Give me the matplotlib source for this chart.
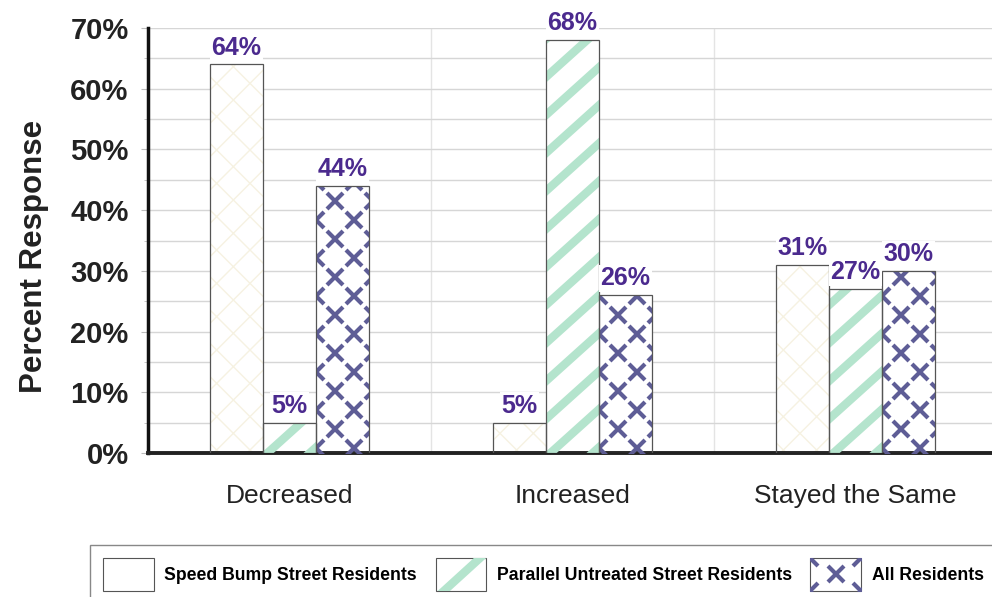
import numpy as np
import matplotlib
matplotlib.use("Agg")
import matplotlib.pyplot as plt
from matplotlib.patches import Rectangle
from matplotlib.lines import Line2D
from matplotlib.legend_handler import HandlerBase
from matplotlib.transforms import IdentityTransform

plt.rcParams["font.family"] = ["Liberation Sans", "DejaVu Sans"]

categories = ["Decreased", "Increased", "Stayed the Same"]
series_names = ["Speed Bump Street Residents",
                "Parallel Untreated Street Residents",
                "All Residents"]
speed_bump = [64, 5, 31]
parallel = [5, 68, 27]
all_residents = [44, 26, 30]
y_ticks = [0, 10, 20, 30, 40, 50, 60, 70]

label_color = "#4b2a8e"
stripe_color = "#b4e4cd"
cross_color = "#5e5d96"
faint_color = "#f6f2e2"
edge_color = "#555555"

fig = plt.figure(figsize=(9.92, 5.97), dpi=100)
ax = fig.add_axes([148 / 992, 1 - 453 / 597, 849 / 992, 425 / 597])

x = np.arange(len(categories))
w = 0.187

ax.set_xlim(-0.5, 2.5)
ax.set_ylim(0, 70)

# background grid every 5%, plus separators between groups
ax.set_yticks(y_ticks)
ax.set_yticks(np.arange(5, 70, 10), minor=True)
ax.yaxis.grid(True, which="both", color="#d6d6d6", lw=1)
ax.set_axisbelow(True)
for sep in (0.5, 1.5):
    ax.axvline(sep, color="#e4e4e4", lw=1, zorder=0)

bars1 = ax.bar(x - w, speed_bump, w, facecolor="white", edgecolor=faint_color,
               hatch="x", lw=0, zorder=2)
bars2 = ax.bar(x, parallel, w, facecolor="white", lw=0, zorder=2)
bars3 = ax.bar(x + w, all_residents, w, facecolor="white", lw=0, zorder=2)
for bars in (bars1, bars2, bars3):
    for b in bars:
        ax.add_patch(Rectangle(b.get_xy(), b.get_width(), b.get_height(),
                               fill=False, edgecolor=edge_color, lw=0.9, zorder=4))

# custom fills: diagonal stripes and staggered crosses, clipped to each bar
fig.canvas.draw()
for b in bars2:
    (x0, y0), (x1, y1) = ax.transData.transform(
        [b.get_xy(), (b.get_x() + b.get_width(), b.get_height())])
    for c in np.arange(-80, y1 - y0 + 40, 38):
        xs = np.array([x0 - 10, x1 + 10])
        ys = 0.9 * (xs - x0) + y0 + c
        ln = Line2D(xs, ys, transform=IdentityTransform(), color=stripe_color,
                    lw=6, zorder=3, solid_capstyle="butt")
        ax.add_artist(ln)
        ln.set_clip_path(b)

for b in bars3:
    (x0, y0), (x1, y1) = ax.transData.transform(
        [b.get_xy(), (b.get_x() + b.get_width(), b.get_height())])
    px, py = [], []
    for j in range(0, 40):
        yy = y0 + 5 + j * 19
        if yy > y1 + 12:
            break
        for i in range(-1, 3):
            xx = x0 + i * 38 + (19 if j % 2 else 0)
            px.append(xx)
            py.append(yy)
    ln = Line2D(px, py, transform=IdentityTransform(), ls="none", marker="x",
                ms=11, mew=3, color=cross_color, zorder=3)
    ax.add_artist(ln)
    ln.set_clip_path(b)

# value labels
for bars, vals in ((bars1, speed_bump), (bars2, parallel), (bars3, all_residents)):
    for b, v in zip(bars, vals):
        ax.text(b.get_x() + b.get_width() / 2, v + 0.8, f"{v}%", ha="center",
                va="bottom", fontsize=18, fontweight="bold", color=label_color,
                zorder=5, bbox=dict(facecolor="white", edgecolor="none", pad=1))

for s in ("top", "right"):
    ax.spines[s].set_visible(False)
ax.spines["left"].set_linewidth(2.5)
ax.spines["left"].set_color("#111111")
ax.spines["bottom"].set_linewidth(2.8)
ax.spines["bottom"].set_color("#222222")

ax.set_yticklabels([f"{t}%" for t in y_ticks], fontsize=21, fontweight="bold",
                   color="#222222")
ax.tick_params(axis="y", which="major", length=5, color="#bbbbbb", pad=9)
ax.tick_params(axis="y", which="minor", length=3, color="#bbbbbb")
ax.set_xticks(x)
ax.set_xticklabels(categories, fontsize=19, color="#222222")
ax.tick_params(axis="x", length=0, pad=22)
ax.set_ylabel("Percent Response", fontsize=22.5, fontweight="bold",
              color="#222222")
ax.yaxis.set_label_coords(-0.117, 0.4635)


class PatternHandler(HandlerBase):
    def __init__(self, kind):
        super().__init__()
        self.kind = kind

    def create_artists(self, legend, orig_handle, xdescent, ydescent,
                       width, height, fontsize, trans):
        x0, y0 = -xdescent, -ydescent
        rect = Rectangle((x0, y0), width, height, facecolor="white",
                         edgecolor="#555555", lw=0.8, transform=trans)
        arts = [rect]
        if self.kind == "stripe":
            ln = Line2D([x0 + 0.1 * width, x0 + 0.95 * width],
                        [y0 - 0.1 * height, y0 + 1.1 * height],
                        color=stripe_color, lw=6, transform=trans)
            ln.set_clip_path(rect)
            arts.append(ln)
        elif self.kind == "cross":
            ln = Line2D([x0 + width / 2, x0, x0 + width, x0, x0 + width],
                        [y0 + height / 2, y0, y0, y0 + height, y0 + height],
                        ls="none", marker="x", ms=12, mew=3, color=cross_color,
                        transform=trans)
            ln.set_clip_path(rect)
            arts.append(ln)
        return arts


handles = [object(), object(), object()]
leg = fig.legend(handles, series_names, loc="upper left",
                 bbox_to_anchor=(90 / 992, 1 - 545 / 597), ncol=3,
                 handler_map={handles[0]: PatternHandler("plain"),
                              handles[1]: PatternHandler("stripe"),
                              handles[2]: PatternHandler("cross")},
                 prop=dict(size=12.7, weight="bold"), handlelength=2.85,
                 handleheight=2.45, handletextpad=0.62, columnspacing=1.05,
                 borderpad=0.75, borderaxespad=0, fancybox=False,
                 edgecolor="#888888", framealpha=1)
leg.get_frame().set_linewidth(1)

fig.savefig("out.png", dpi=100)
